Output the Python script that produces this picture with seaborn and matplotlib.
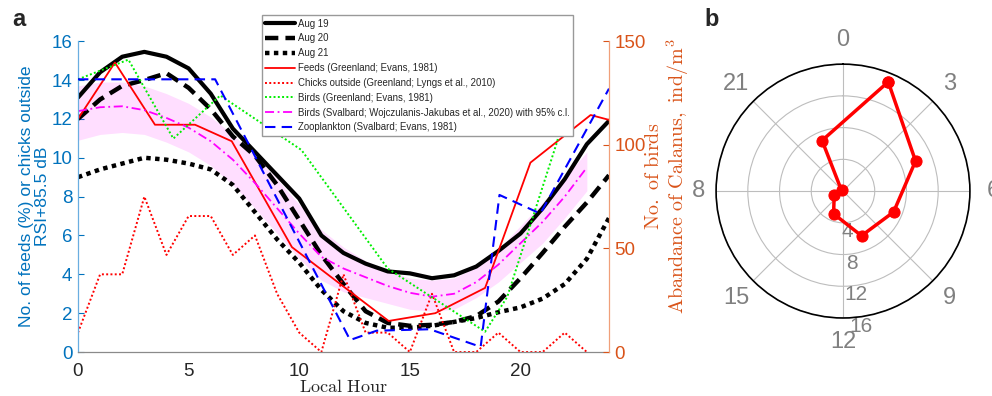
import numpy as np
import matplotlib
matplotlib.use("Agg")
import matplotlib.pyplot as plt
import seaborn as sns
from matplotlib.transforms import Bbox, TransformedBbox, IdentityTransform

sns.set_style("white")
plt.rcParams['font.family'] = ['Liberation Sans', 'DejaVu Sans']
plt.rcParams['mathtext.fontset'] = 'cm'

# ---- panel a data ----
rsi_hours = list(range(25))
aug19 = [13.1, 14.4, 15.2, 15.45, 15.2, 14.6, 13.3, 11.5, 10.3, 9.1, 7.9, 6.0, 5.1,
         4.55, 4.15, 4.05, 3.8, 3.95, 4.4, 5.2, 6.1, 7.4, 8.9, 10.7, 11.9]
aug20 = [12.0, 13.0, 13.7, 14.0, 14.35, 13.6, 12.5, 11.1, 10.1, 8.6, 6.8, 5.0, 3.5,
         2.1, 1.5, 1.35, 1.4, 1.55, 1.85, 2.6, 3.8, 5.1, 6.45, 7.7, 9.1]
aug21 = [9.0, 9.4, 9.7, 10.0, 9.9, 9.7, 9.4, 8.6, 7.2, 5.8, 4.6, 3.2, 2.1,
         1.5, 1.25, 1.25, 1.35, 1.55, 1.75, 2.05, 2.3, 2.75, 3.5, 4.8, 6.9]

feeds_hours = [0, 1.67, 3.48, 5.29, 6.95, 9.67, 14.04, 16.15, 18.4, 20.45, 23.17, 24.0]
feeds = [12.0, 14.9, 11.7, 11.7, 10.85, 5.4, 1.6, 2.0, 3.3, 9.75, 12.2, 11.95]

chick_hours = list(range(24))
chicks = [1, 4, 4, 8, 5, 7, 7, 5, 6, 3, 1, 0, 4, 1, 1, 0, 3, 0, 0, 1, 0, 0, 1, 0]

birds_gl_hours = [0, 2.28, 4.31, 6.43, 10.1, 14.0, 18.4, 19.4, 21.65, 22.3]
birds_gl = [131.6, 141.1, 103.0, 123.8, 97.5, 40.3, 9.8, 26.6, 101.3, 127.5]

sv_hours = list(range(24))
birds_sv = [12.4, 12.6, 12.65, 12.45, 12.05, 11.55, 10.85, 9.9, 8.7, 7.4, 6.1, 4.9,
            4.3, 3.85, 3.4, 3.05, 2.85, 3.0, 3.6, 4.5, 5.6, 6.7, 8.0, 9.5]
birds_sv_hi = [13.7, 13.9, 13.9, 13.7, 13.3, 12.8, 12.1, 11.2, 10.1, 8.9, 7.6, 6.3,
               5.4, 4.7, 4.2, 3.8, 3.7, 3.8, 4.4, 5.3, 6.5, 7.7, 9.0, 10.3]
birds_sv_lo = [10.9, 11.2, 11.3, 11.2, 10.8, 10.3, 9.6, 8.6, 7.4, 6.1, 4.8, 3.7,
               3.1, 2.8, 2.5, 2.2, 2.1, 2.2, 2.8, 3.6, 4.6, 5.6, 6.9, 8.3]

zoo_hours = [0, 6.2, 12.3, 13.5, 15.9, 18.2, 19.05, 20.9, 24]
zoo = [131.6, 131.6, 5.8, 10.3, 11.0, 2.5, 75.8, 66.8, 127.1]

# ---- panel b data ----
polar_hours = [1.5, 4.5, 7.5, 10.5, 13.5, 16.5, 19.5, 22.5]
polar_vals = [14.9, 9.9, 6.9, 6.1, 3.1, 1.2, 0.2, 6.9]
polar_ticks = ['0', '3', '6', '9', '12', '15', '18', '21']

blue = '#0072BD'
orange = '#D95319'

fig = plt.figure(figsize=(9.92, 3.96), dpi=100)
ax = fig.add_axes([0.0786, 0.111, 0.5353, 0.785])
ax2 = ax.twinx()
axp = fig.add_axes([0.7218, 0.197, 0.256, 0.641], projection='polar')

common = dict(estimator=None, errorbar=None, sort=False)

ax.fill_between(sv_hours, birds_sv_lo, birds_sv_hi, color='#ff00ff', alpha=0.13, lw=0)
handles = []
sns.lineplot(x=rsi_hours, y=aug19, ax=ax, color='k', lw=3.0, **common)
handles.append(ax.lines[-1])
sns.lineplot(x=rsi_hours, y=aug20, ax=ax, color='k', lw=3.2,
             linestyle=(0, (3, 1.6)), **common)
handles.append(ax.lines[-1])
sns.lineplot(x=rsi_hours, y=aug21, ax=ax, color='k', lw=3.2,
             linestyle=(0, (1, 1)), **common)
handles.append(ax.lines[-1])
sns.lineplot(x=feeds_hours, y=feeds, ax=ax, color='#ff0000', lw=1.3, **common)
handles.append(ax.lines[-1])
sns.lineplot(x=chick_hours, y=chicks, ax=ax, color='#ff0000', lw=1.4,
             linestyle=(0, (1, 1.2)), **common)
handles.append(ax.lines[-1])
sns.lineplot(x=birds_gl_hours, y=birds_gl, ax=ax2, color='#00ee00', lw=1.4,
             linestyle=(0, (1, 1.2)), **common)
handles.append(ax2.lines[-1])
sns.lineplot(x=sv_hours, y=birds_sv, ax=ax, color='#ff00ff', lw=1.3,
             linestyle=(0, (5, 2, 1, 2)), **common)
handles.append(ax.lines[-1])
sns.lineplot(x=zoo_hours, y=zoo, ax=ax2, color='#0000ff', lw=1.5,
             linestyle=(0, (5, 3)), **common)
handles.append(ax2.lines[-1])

labels = ['Aug 19', 'Aug 20', 'Aug 21',
          'Feeds (Greenland; Evans, 1981)',
          'Chicks outside (Greenland; Lyngs et al., 2010)',
          'Birds (Greenland; Evans, 1981)',
          'Birds (Svalbard; Wojczulanis-Jakubas et al., 2020) with 95% c.l.',
          'Zooplankton (Svalbard; Evans, 1981)']

ax.set_xlim(0, 24)
ax.set_ylim(0, 16)
ax2.set_ylim(0, 150)
ax.set_xticks([0, 5, 10, 15, 20])
ax.set_yticks(range(0, 17, 2))
ax2.set_yticks([0, 50, 100, 150])

ax.set_xlabel(r'$\mathrm{Local\ Hour}$', fontsize=13, color='#262626', labelpad=-1)
ax.set_ylabel('No. of feeds (%) or chicks outside\nRSI+85.5 dB', color=blue, fontsize=12.6,
              linespacing=1.05)
ax.yaxis.set_label_coords(-0.053, 0.5)
ax2.set_ylabel(r'$\mathrm{No.\ of\ birds}$' + '\n' + r'$\mathrm{Abandance\ of\ Calanus,\ ind/m^3}$',
               color=orange, fontsize=14.5, linespacing=1.05, rotation=90)
ax2.yaxis.set_label_coords(1.066, 0.565)

ax.tick_params(axis='x', direction='in', length=4, labelsize=13.5, colors='#262626', pad=8)
ax.tick_params(axis='y', direction='in', length=4, labelsize=13.5, colors=blue, pad=4)
ax2.tick_params(axis='y', direction='in', length=4, labelsize=13.5, colors=orange, pad=4)

for a in (ax, ax2):
    a.spines['top'].set_visible(False)
    a.grid(False)
ax.spines['right'].set_visible(False)
ax2.spines['left'].set_visible(False)
ax2.spines['bottom'].set_visible(False)
ax.spines['left'].set_color('#6aaee0')
ax.spines['bottom'].set_color('#8a8a8a')
ax2.spines['right'].set_color('#f0a07a')
for s in ('left', 'bottom'):
    ax.spines[s].set_linewidth(0.9)
ax2.spines['right'].set_linewidth(0.9)

leg = ax2.legend(handles, labels, loc='upper left', bbox_to_anchor=(0.3465, 1.0836),
                 fontsize=6.95, frameon=True, fancybox=False, framealpha=1,
                 edgecolor='#999999', handlelength=3.1, labelspacing=0.5,
                 borderpad=0.35, handletextpad=0.3, borderaxespad=0)
leg.get_frame().set_linewidth(1.0)

# ---- panel b ----
theta = np.deg2rad(np.array(polar_hours + polar_hours[:1]) * 15.0)
sns.lineplot(x=theta, y=polar_vals + polar_vals[:1], ax=axp, color='#ff0000', lw=2.5,
             marker='o', markersize=8, markeredgecolor='#ff0000', **common)
axp.set_theta_zero_location('N')
axp.set_theta_direction(-1)
axp.set_ylim(0, 16)
axp.set_yticks([4, 8, 12, 16])
axp.set_yticklabels(['4', '8', '12', '16'])
axp.set_rlabel_position(172)
tick_angles = np.deg2rad(np.arange(0, 360, 45))
axp.set_xticks(tick_angles)
axp.set_xticklabels([])
axp.set_xlabel('')
axp.set_ylabel('')
axp.tick_params(axis='y', labelsize=15, colors='#808080')
for lbl in axp.get_yticklabels():
    lbl.set_ha('center')
    lbl.set_va('top')
# hour labels round the circle; the panel is cropped on the left, as in the original
clip = TransformedBbox(Bbox([[692, 0], [992, 396]]), IdentityTransform())
for ang, txt in zip(tick_angles, polar_ticks):
    t = axp.text(ang, 19.0, txt, ha='center', va='center', fontsize=17,
                 color='#808080', clip_on=False)
    t.set_clip_box(clip)
    t.set_clip_on(True)
axp.grid(True, color='#bdbdbd', lw=0.8)
axp.spines['polar'].set_color('k')
axp.spines['polar'].set_linewidth(1.2)

fig.text(0.012, 0.935, 'a', fontsize=17, fontweight='bold')
fig.text(0.710, 0.935, 'b', fontsize=17, fontweight='bold')

fig.savefig('out.png', dpi=100)
